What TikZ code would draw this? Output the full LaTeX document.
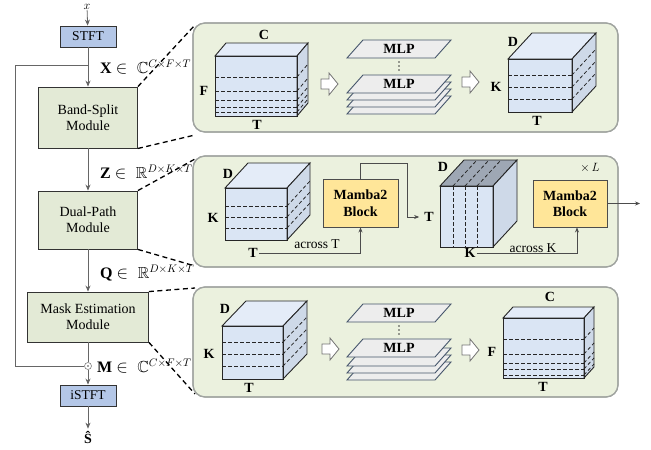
\documentclass[tikz,border=0pt]{standalone}
\usepackage{amssymb}
\usepackage{fontspec}
\setmainfont{Liberation Serif}
\usetikzlibrary{arrows.meta}
\definecolor{modfill}{HTML}{E3EAD6}
\definecolor{panfill}{HTML}{EBF1DE}
\definecolor{panedge}{HTML}{A0A4A0}
\definecolor{stftfill}{HTML}{B4C7E7}
\definecolor{frontc}{HTML}{DAE5F4}
\definecolor{topc}{HTML}{E4ECF8}
\definecolor{sidec}{HTML}{B3BCCB}
\definecolor{darktop}{HTML}{9EA7B4}
\definecolor{mambafill}{HTML}{FFE699}
\definecolor{mlpfill}{HTML}{EDEDED}
\definecolor{mlpedge}{HTML}{44546A}
\newcommand\cubebox[8]{%
  \fill[#7] (#1,#2) rectangle ({#1+#3},{#2+#4});
  \draw[cubeedge, fill=#8] (#1,#2) -- ({#1+#5},{#2-#6}) -- ({#1+#3+#5},{#2-#6}) -- ({#1+#3},#2) -- cycle;
  \draw[cubeedge, fill=#7!70!sidec] ({#1+#3},#2) -- ({#1+#3+#5},{#2-#6}) -- ({#1+#3+#5},{#2+#4-#6}) -- ({#1+#3},{#2+#4}) -- cycle;
  \draw[cubeedge] (#1,#2) rectangle ({#1+#3},{#2+#4});
}
\newcommand\mlplayer[2]{%
  \draw[mlpshape] (#1,#2) -- ({#1+88},#2) -- ({#1+104},{#2-18}) -- ({#1+16},{#2-18}) -- cycle;
}
\newcommand\hollowarrow[2]{%
  \draw[draw=black!55, fill=white, line width=0.8pt] ({#1-8},{#2-5}) -- (#1,{#2-5}) -- (#1,{#2-11}) -- ({#1+9},#2) -- (#1,{#2+11}) -- (#1,{#2+5}) -- ({#1-8},{#2+5}) -- cycle;
}
\newcommand\vdotsat[2]{%
  \fill[black!75] (#1,{#2-4}) circle (0.8pt) (#1,#2) circle (0.8pt) (#1,{#2+4}) circle (0.8pt);
}
\begin{document}
\begin{tikzpicture}[x=1pt,y=-1pt,
  modbox/.style={draw=black!80, fill=modfill, line width=0.9pt, align=center, inner sep=0pt, font=\fontsize{14}{16}\selectfont},
  stftbox/.style={draw=black!80, fill=stftfill, line width=0.9pt, inner sep=0pt, minimum width=56pt, minimum height=21pt, font=\fontsize{13.5}{15}\selectfont},
  panel/.style={draw=panedge, fill=panfill, line width=1.2pt, rounded corners=12pt},
  arr/.style={draw=black!60, line width=0.8pt, -{Stealth[length=6pt,width=5pt,fill=black]}},
  plain/.style={draw=black!60, line width=0.8pt},
  zoomline/.style={draw=black, line width=1.3pt, dash pattern=on 5pt off 3.5pt},
  cubeedge/.style={draw=black!85, line width=0.9pt},
  dl/.style={draw=black!85, line width=0.8pt, dash pattern=on 3.5pt off 2.5pt},
  mlpshape/.style={draw=mlpedge, fill=mlpfill, line width=0.9pt},
  lab/.style={font=\fontsize{14}{16}\selectfont\bfseries, inner sep=1pt},
  mlptxt/.style={font=\fontsize{14}{16}\selectfont\bfseries, inner sep=0pt},
  mamba/.style={draw=black!70, fill=mambafill, line width=0.9pt, align=center, font=\fontsize{14}{16.5}\selectfont\bfseries},
  thinarr/.style={draw=black!70, line width=0.7pt, -{Stealth[length=5pt,width=4pt,fill=black]}},
  small/.style={font=\fontsize{13.5}{15}\selectfont, inner sep=1pt},
  eqlab/.style={font=\fontsize{16}{18}\selectfont, anchor=west, inner sep=0pt}
]
\useasboundingbox (0,0) rectangle (651,450);

% ---------- panels ----------
\draw[panel] (193,23) rectangle (618,132);
\draw[panel] (193,156) rectangle (618,267);
\draw[panel] (193,287) rectangle (618,397);

% ---------- left column ----------
\node[font=\fontsize{12}{14}\selectfont, inner sep=0.5pt] (xin) at (87,7) {$x$};
\node[stftbox] (stft) at (88,36.5) {STFT};
\node[modbox, minimum width=99pt, minimum height=61pt] (bs) at (88,117.5) {Band-Split\\Module};
\node[modbox, minimum width=99pt, minimum height=58pt] (dp) at (88,220) {Dual-Path\\Module};
\node[modbox, minimum width=121pt, minimum height=50pt] (me) at (88,317) {Mask Estimation\\Module};
\node[circle, draw=black!50, fill=white, line width=0.6pt, minimum size=7pt, inner sep=0pt] (od) at (88,366) {};
\fill[black!70] (od.center) circle (0.9pt);
\node[stftbox] (istft) at (88,395.5) {iSTFT};
\node[font=\fontsize{14}{16}\selectfont\bfseries, inner sep=1pt] (shat) at (88,437) {Ŝ};

\draw[arr] (xin) -- (stft);
\draw[arr] (stft) -- (bs);
\draw[arr] (bs) -- (dp);
\draw[arr] (dp) -- (me);
\draw[plain] (me) -- (od);
\draw[arr] (od) -- (istft);
\draw[arr, shorten >=1pt] (istft) -- (shat);
\coordinate (fb) at (88,65);
\coordinate (fbl) at (15,65);
\coordinate (fbb) at (15,366);
\draw[plain] (fb) -- (fbl) -- (fbb) -- (od);

\node[eqlab] (lx) at (100,67) {\textbf{X} $\in\;\mathbb{C}^{C\times F\times T}$};
\node[eqlab] (lz) at (100,172) {\textbf{Z} $\in\;\mathbb{R}^{D\times K\times T}$};
\node[eqlab] (lq) at (100,273) {\textbf{Q} $\in\;\mathbb{R}^{D\times K\times T}$};
\node[eqlab] (lm) at (97,366) {\textbf{M} $\in\;\mathbb{C}^{C\times F\times T}$};

% ---------- zoom lines ----------
\coordinate (z1a) at (195,25);
\coordinate (z1b) at (195,135);
\coordinate (z2a) at (195,159);
\coordinate (z2b) at (195,266);
\coordinate (z3a) at (195,288);
\coordinate (z3b) at (195,394);
\draw[zoomline] (bs.north east) -- (z1a);
\draw[zoomline] (bs.south east) -- (z1b);
\draw[zoomline] (dp.north east) -- (z2a);
\draw[zoomline] (dp.south east) -- (z2b);
\draw[zoomline] (me.north east) -- (z3a);
\draw[zoomline] (me.south east) -- (z3b);
% redraw panels' edges over line ends
\draw[panel, fill=none] (193,23) rectangle (618,132);
\draw[panel, fill=none] (193,156) rectangle (618,267);
\draw[panel, fill=none] (193,287) rectangle (618,397);

% ---------- panel 1 ----------
\cubebox{215}{56}{82}{60}{11}{13}{frontc}{topc}
\foreach \yy in {77,91,100,107,112} {
  \draw[dl] (215,\yy) -- (297,\yy);
  \draw[dl] (297,\yy) -- (308,{\yy-13});
}
\node[lab] (c1) at (264,35) {C};
\node[lab] (f1) at (204,91) {F};
\node[lab] (t1) at (257,125) {T};

\hollowarrow{329}{84}

\mlplayer{347}{114}
\mlplayer{347}{107}
\mlplayer{347}{100}
\mlplayer{347}{93}
\mlplayer{347}{58}
\node[mlptxt] (mlp1a) at (399,49) {MLP};
\node[mlptxt] (mlp1b) at (399,84) {MLP};
\vdotsat{399}{66}

\hollowarrow{470}{82}

\cubebox{508}{59}{64}{53}{24}{26}{frontc}{topc}
\foreach \yy in {75,87,99} {
  \draw[dl] (508,\yy) -- (572,\yy);
  \draw[dl] (572,\yy) -- (596,{\yy-26});
}
\node[lab] (d2) at (513,42) {D};
\node[lab] (k2) at (496,87) {K};
\node[lab] (t2) at (537,121) {T};

% ---------- panel 2 ----------
\cubebox{225}{188}{62}{52}{23}{25}{frontc}{topc}
\foreach \yy in {206,217,228} {
  \draw[dl] (225,\yy) -- (287,\yy);
  \draw[dl] (287,\yy) -- (310,{\yy-25});
}
\node[lab] (d3) at (228,174) {D};
\node[lab] (k3) at (213,218) {K};
\node[lab] (t3) at (253,253) {T};

\node[mamba, minimum width=75pt, minimum height=48pt, inner sep=0pt] (mb1) at (360.5,203) {Mamba2\\Block};
\draw[thinarr] (t3.east) -| (mb1.south);
\node[small] (acrT) at (317,244) {across T};

\cubebox{440}{186}{53}{61}{24}{26}{frontc}{darktop}
\foreach \xx in {453,465,477} {
  \draw[dl] (\xx,186) -- (\xx,247);
  \draw[dl] (\xx,186) -- ({\xx+24},160);
}
\node[lab] (d4) at (443,167) {D};
\node[lab] (t4) at (429,217) {T};
\node[lab] (k4) at (470,253) {K};
\coordinate (c1) at (407,163);
\draw[thinarr, shorten >=4pt] (mb1.north) |- (c1) |- (t4.west);

\node[mamba, minimum width=74pt, minimum height=47pt, inner sep=0pt] (mb2) at (570,203.5) {Mamba2\\Block};
\draw[thinarr] (k4.east) -| ([xshift=7pt]mb2.south);
\node[small] (acrK) at (533,248) {across K};
\coordinate (outc) at (640,203.5);
\draw[thinarr] (mb2.east) -- (outc);
\node[font=\fontsize{13}{15}\selectfont, inner sep=0pt] (xl) at (590,168) {$\times\,L$};

% ---------- panel 3 ----------
\cubebox{222}{326}{61}{53}{24}{25}{frontc}{topc}
\foreach \yy in {342,354,366} {
  \draw[dl] (222,\yy) -- (283,\yy);
  \draw[dl] (283,\yy) -- (307,{\yy-25});
}
\node[lab] (d5) at (225,309) {D};
\node[lab] (k5) at (209,354) {K};
\node[lab] (t5) at (249,388) {T};

\hollowarrow{330}{349}

\mlplayer{347}{380}
\mlplayer{347}{373}
\mlplayer{347}{366}
\mlplayer{347}{357}
\mlplayer{347}{322}
\node[mlptxt] (mlp3a) at (399,313) {MLP};
\node[mlptxt] (mlp3b) at (399,348) {MLP};
\vdotsat{399}{330}

\hollowarrow{470}{350}

\cubebox{503}{318}{81}{60}{10}{11}{frontc}{topc}
\foreach \yy in {339,354,363,369,375} {
  \draw[dl] (503,\yy) -- (584,\yy);
  \draw[dl] (584,\yy) -- (594,{\yy-11});
}
\node[lab] (c6) at (550,297) {C};
\node[lab] (f6) at (492,352) {F};
\node[lab] (t6) at (543,387) {T};
\end{tikzpicture}
\end{document}
